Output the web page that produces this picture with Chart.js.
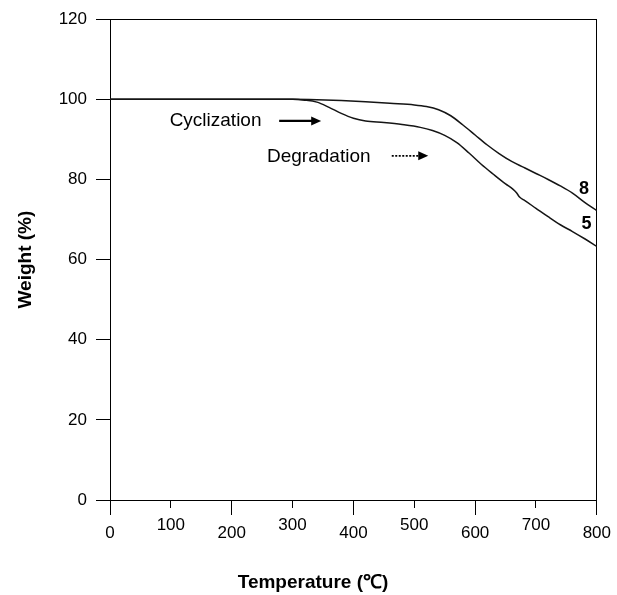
<!DOCTYPE html>
<html><head><meta charset="utf-8">
<script src="https://cdn.jsdelivr.net/npm/chart.js@4"></script>
<style>html,body{margin:0;padding:0;background:#fff}#wrap{width:617px;height:595px}</style>
</head><body><div id="wrap"><canvas id="c" width="617" height="595"></canvas></div>
<script>
// Sample 8 (upper curve)
const temp8   = [0, 100, 200, 300, 340, 380, 420, 460, 500, 520, 540, 560, 580, 600, 620, 640, 660, 680, 700, 720, 740, 760, 780, 800];
const weight8 = [100, 100, 100, 100, 99.9, 99.7, 99.4, 99.0, 98.6, 98.2, 97.4, 95.9, 93.6, 91.1, 88.6, 86.4, 84.5, 83.0, 81.5, 80.0, 78.4, 76.6, 74.3, 72.2];
// Sample 5 (lower curve)
const temp5   = [0, 100, 200, 300, 320, 340, 360, 380, 400, 420, 450, 480, 510, 530, 550, 570, 590, 610, 630, 650, 662, 668, 673, 680, 700, 720, 740, 760, 780, 800];
const weight5 = [100, 100, 100, 100, 99.8, 99.3, 98.0, 96.5, 95.3, 94.6, 94.2, 93.7, 93.0, 92.2, 91.0, 89.2, 86.6, 83.8, 81.3, 78.9, 77.6, 76.7, 75.6, 74.9, 72.8, 70.7, 68.7, 67.0, 65.2, 63.3];

const xTickLabels = ['0', '100', '200', '300', '400', '500', '600', '700', '800'];
const yTickLabels = ['0', '20', '40', '60', '80', '100', '120'];
const curveNames = ['8', '5'];
const curveNameAt = [[779, 77.7], [783, 69.0]];
const noteTexts = ['Cyclization', 'Degradation'];
const noteAt = [[98, 94.6], [258, 85.6]];
const noteArrows = [[278, 347, 94.6], [463, 523, 85.9]];

const FONT = "'Liberation Sans', Arial, Helvetica, sans-serif";

const toPts = (xs, ys) => xs.map((x, i) => ({x: x, y: ys[i]}));

const notesPlugin = {
  id: 'notes',
  afterDatasetsDraw(chart) {
    const {ctx, scales: {x, y}} = chart;
    ctx.save();
    ctx.fillStyle = '#000';
    ctx.strokeStyle = '#000';
    ctx.textBaseline = 'middle';
    ctx.font = '19px ' + FONT;
    ctx.textAlign = 'left';
    noteTexts.forEach((t, i) => {
      ctx.fillText(t, x.getPixelForValue(noteAt[i][0]), y.getPixelForValue(noteAt[i][1]));
    });
    noteArrows.forEach((a, i) => {
      const x1 = x.getPixelForValue(a[0]), x2 = x.getPixelForValue(a[1]), yy = y.getPixelForValue(a[2]);
      ctx.save();
      ctx.lineWidth = i === 0 ? 2.2 : 1.6;
      ctx.setLineDash(i === 0 ? [] : [2, 1.5]);
      ctx.beginPath(); ctx.moveTo(x1, yy); ctx.lineTo(x2 - 8, yy); ctx.stroke();
      ctx.restore();
      ctx.beginPath();
      ctx.moveTo(x2, yy); ctx.lineTo(x2 - 10, yy - 4.5); ctx.lineTo(x2 - 10, yy + 4.5); ctx.closePath(); ctx.fill();
    });
    ctx.font = 'bold 18px ' + FONT;
    ctx.textAlign = 'center';
    curveNames.forEach((t, i) => {
      ctx.fillText(t, x.getPixelForValue(curveNameAt[i][0]), y.getPixelForValue(curveNameAt[i][1]));
    });
    ctx.restore();
  }
};

new Chart(document.getElementById('c'), {
  type: 'line',
  data: {
    datasets: [
      {label: curveNames[0], data: toPts(temp8, weight8), borderColor: '#151515', borderWidth: 1.5, pointRadius: 0, cubicInterpolationMode: 'monotone', fill: false},
      {label: curveNames[1], data: toPts(temp5, weight5), borderColor: '#151515', borderWidth: 1.5, pointRadius: 0, cubicInterpolationMode: 'monotone', fill: false}
    ]
  },
  options: {
    responsive: false,
    animation: false,
    devicePixelRatio: 1,
    layout: {padding: {left: 9, right: 0, top: 18, bottom: 0}},
    plugins: {
      legend: {display: false},
      tooltip: {enabled: false},
      title: {
        display: true, position: 'bottom', text: 'Temperature (℃)', color: '#000',
        font: {family: FONT, size: 19, weight: 'bold', lineHeight: 1.2},
        padding: {top: 0, bottom: 1}
      }
    },
    scales: {
      x: {
        type: 'linear', position: 'bottom', min: 0, max: 800,
        afterFit: s => { s.height = 71.2; },
        border: {display: true, color: '#000', width: 1},
        grid: {
          drawOnChartArea: false, drawTicks: true, tickLength: 15, tickColor: '#000', tickWidth: 1,
          tickBorderDash: c => (c.index % 2 ? [7, 40] : [])
        },
        ticks: {
          stepSize: 100, autoSkip: false, maxRotation: 0, color: '#000', padding: 6,
          font: {family: FONT, size: 17, lineHeight: '8px'},
          callback: (v, i) => (i % 2 === 0 ? ['', xTickLabels[i]] : xTickLabels[i])
        }
      },
      xTop: {
        type: 'linear', position: 'top', min: 0, max: 800,
        afterFit: s => { s.height = 0; },
        border: {display: true, color: '#000', width: 1},
        grid: {drawOnChartArea: false, drawTicks: false},
        ticks: {display: false}
      },
      y: {
        type: 'linear', position: 'left', min: 0, max: 120,
        afterFit: s => { s.width = 101; },
        border: {display: true, color: '#000', width: 1},
        grid: {drawOnChartArea: false, tickLength: 14, tickColor: '#000', tickWidth: 1},
        ticks: {
          stepSize: 20, color: '#000', padding: 9,
          font: {family: FONT, size: 17},
          callback: (v, i) => yTickLabels[i]
        },
        title: {
          display: true, text: 'Weight (%)', color: '#000',
          font: {family: FONT, size: 19, weight: 'bold', lineHeight: 1.2},
          padding: {top: 5, bottom: 0}
        }
      },
      yRight: {
        type: 'linear', position: 'right', min: 0, max: 120,
        afterFit: s => { s.width = 18; },
        border: {display: true, color: '#000', width: 1},
        grid: {drawOnChartArea: false, drawTicks: false},
        ticks: {display: false}
      }
    }
  },
  plugins: [notesPlugin]
});
</script>
</body></html>
